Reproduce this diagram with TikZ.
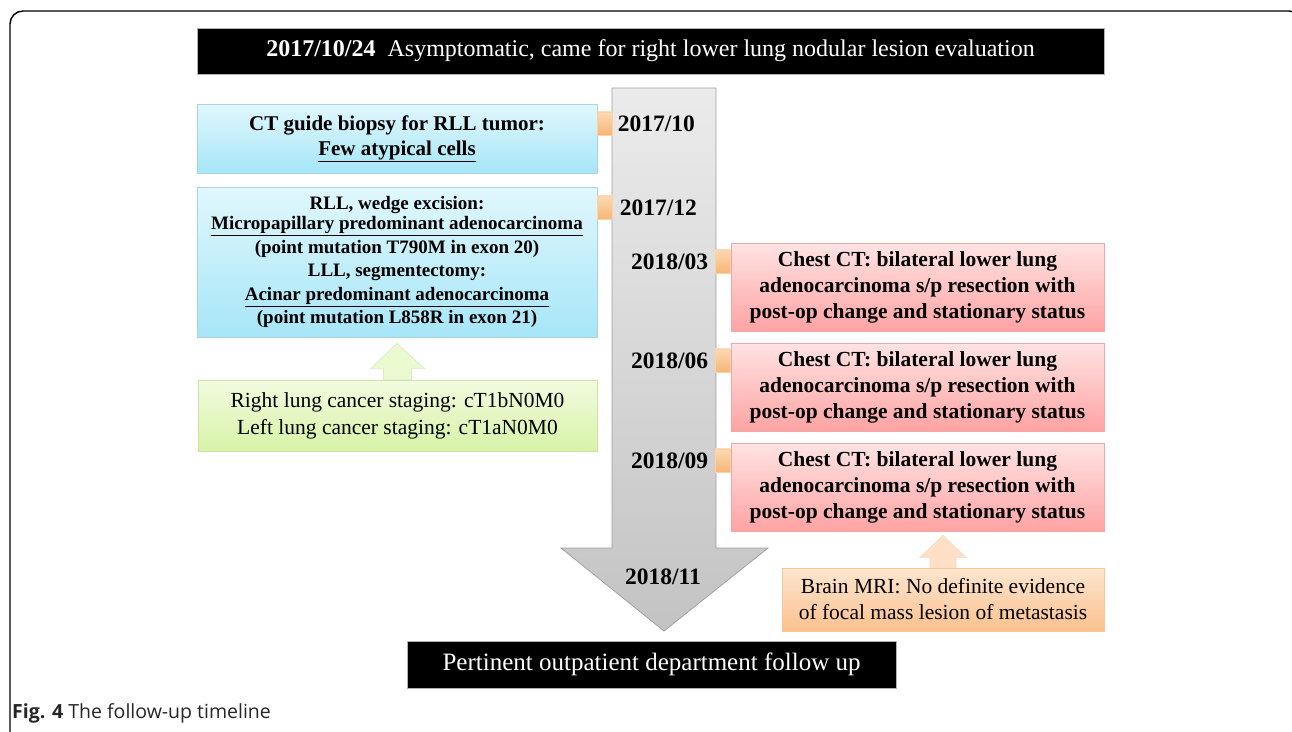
\documentclass[tikz,border=0pt]{standalone}
\usepackage{fontspec}
\setmainfont{Liberation Serif}
\newfontfamily\capfont{Open Sans}
\usetikzlibrary{positioning,calc}

\definecolor{BlueTop}{HTML}{E1F7FD}
\definecolor{BlueBot}{HTML}{A6E6F8}
\definecolor{BlueLine}{HTML}{A9D4E2}
\definecolor{GreenTop}{HTML}{F2FBE0}
\definecolor{GreenBot}{HTML}{D7F3A6}
\definecolor{GreenLine}{HTML}{CDE3A8}
\definecolor{RedTop}{HTML}{FFE3E3}
\definecolor{RedBot}{HTML}{FFA3A3}
\definecolor{RedLine}{HTML}{F2A7A7}
\definecolor{OrangeTop}{HTML}{FDE6D0}
\definecolor{OrangeBot}{HTML}{FBC18E}
\definecolor{OrangeLine}{HTML}{F6C699}
\definecolor{TabTop}{HTML}{FCD9B4}
\definecolor{TabBot}{HTML}{F7B677}
\definecolor{ArrowTop}{HTML}{EBEBEB}
\definecolor{ArrowBot}{HTML}{C3C3C3}
\definecolor{ArrowLine}{HTML}{A0A0A0}

\begin{document}
\begin{tikzpicture}[x=1pt,y=-1pt,
    box/.style={rectangle, inner sep=0pt, align=center, line width=0.7pt},
    blackbar/.style={box, fill=black, draw=gray!60, text=white},
    bluebox/.style={box, top color=BlueTop, bottom color=BlueBot, draw=BlueLine, minimum width=400pt},
    greenbox/.style={box, top color=GreenTop, bottom color=GreenBot, draw=GreenLine, minimum width=399pt},
    redbox/.style={box, top color=RedTop, bottom color=RedBot, draw=RedLine, minimum width=373pt, minimum height=88pt,
        font=\fontsize{21.5}{26}\selectfont\bfseries},
    orangebox/.style={box, top color=OrangeTop, bottom color=OrangeBot, draw=OrangeLine},
    tab/.style={rectangle, inner sep=0pt, minimum width=15pt, minimum height=23pt, top color=TabTop, bottom color=TabBot, draw=TabTop!80!TabBot, line width=0.4pt},
    date/.style={inner sep=0pt, font=\fontsize{23.5}{26}\selectfont\bfseries},
    timeline/.style={top color=ArrowTop, bottom color=ArrowBot, draw=ArrowLine, line width=0.8pt},
    upgreen/.style={fill=GreenTop!70!GreenBot, draw=GreenLine!70, line width=0.6pt},
    uporange/.style={fill=OrangeTop!85!OrangeBot, draw=OrangeLine!60, line width=0.6pt}]

    \useasboundingbox (0,0) rectangle (1292,731);

    % outer frame
    \draw[line width=1.4pt, rounded corners=13pt] (10,745) -- (10,11) -- (1302,11) -- (1302,745);

    % big gray timeline arrow
    \coordinate (ShaftTL) at (612,88);
    \coordinate (ShaftTR) at (716,88);
    \coordinate (Tip) at (664,631);
    \draw[timeline] (ShaftTL) -- (ShaftTR) -- (716,548) -- (768,548) -- (Tip) -- (561,548) -- (612,548) -- cycle;

    % header and footer
    \node[blackbar, minimum width=907pt, minimum height=46pt, font=\fontsize{24}{28}\selectfont] (head) at (650.5,51)
        {\textbf{2017/10/24}\ \ Asymptomatic, came for right lower lung nodular lesion evaluation};
    \node[blackbar, minimum width=489pt, minimum height=47pt, font=\fontsize{25}{30}\selectfont] (foot) at (651.5,664.5)
        {Pertinent\ outpatient\ department\ follow\ up};

    % left column
    \node[bluebox, minimum height=69pt, font=\fontsize{21}{25}\selectfont\bfseries] (biopsy) at (397,138.5)
        {CT guide biopsy for RLL tumor:\\\underline{Few atypical cells}};
    \node[bluebox, minimum height=150pt, font=\fontsize{19}{23.5}\selectfont\bfseries] (wedge) at (397,262)
        {\raisebox{-3pt}{RLL, wedge excision:}\\\underline{Micropapillary predominant adenocarcinoma}\\(point mutation T790M in exon 20)\\
         LLL, segmentectomy:\\\underline{Acinar predominant adenocarcinoma}\\(point mutation L858R in exon 21)};
    \node[greenbox, minimum height=71pt, font=\fontsize{21.5}{27}\selectfont] (staging) at (397.5,415.5)
        {Right lung cancer staging: cT1bN0M0\\Left lung cancer staging: cT1aN0M0};

    % right column
    \node[redbox] (ctA) at (917.5,287) {Chest CT: bilateral lower lung\\adenocarcinoma s/p resection with\\post-op change and stationary status};
    \node[redbox] (ctB) at (917.5,387) {Chest CT: bilateral lower lung\\adenocarcinoma s/p resection with\\post-op change and stationary status};
    \node[redbox] (ctC) at (917.5,487) {Chest CT: bilateral lower lung\\adenocarcinoma s/p resection with\\post-op change and stationary status};
    \node[orangebox, minimum width=322pt, minimum height=63pt, font=\fontsize{21.5}{26}\selectfont] (mri) at (943,599.5)
        {Brain MRI: No definite evidence\\of focal mass lesion of metastasis};

    % tabs to the timeline
    \node[tab, anchor=north west] (tab1) at ([yshift=-8pt]biopsy.north east) {};
    \node[tab, anchor=north west] (tab2) at ([yshift=-9pt]wedge.north east) {};
    \node[tab, anchor=north east] (tabA) at ([yshift=-7pt]ctA.north west) {};
    \node[tab, anchor=north east] (tabB) at ([yshift=-6pt]ctB.north west) {};
    \node[tab, anchor=north east] (tabC) at ([yshift=-6pt]ctC.north west) {};

    % dates
    \node[date, right=5pt of tab1] (d1710) {2017/10};
    \node[date, right=7pt of tab2] (d1712) {2017/12};
    \node[date, left=7pt of tabA] (d1803) {2018/03};
    \node[date, left=7pt of tabB] (d1806) {2018/06};
    \node[date, left=7pt of tabC] (d1809) {2018/09};
    \node[date] (d1811) at (663,577) {2018/11};

    % small up arrows
    \draw[upgreen] ($(staging.north)+(-14,0)$) -- ++(0,-11) -- ++(-13,0) -- ($(wedge.south)+(0,6)$)
        -- ($(staging.north)+(27,-11)$) -- ++(-13,0) -- ++(0,11) -- cycle;
    \draw[uporange] ($(mri.north)+(-13,0)$) -- ++(0,-10) -- ++(-10.5,0) -- ($(ctC.south)+(25.5,4)$)
        -- ($(mri.north)+(23.5,-10)$) -- ++(-10.5,0) -- ++(0,10) -- cycle;

    % caption
    \node[anchor=base west, inner sep=0pt, text=black!85, font=\capfont\fontsize{19.5}{22}\selectfont] (caption) at (12,718)
        {\textbf{Fig. 4} The follow-up timeline};
\end{tikzpicture}
\end{document}
